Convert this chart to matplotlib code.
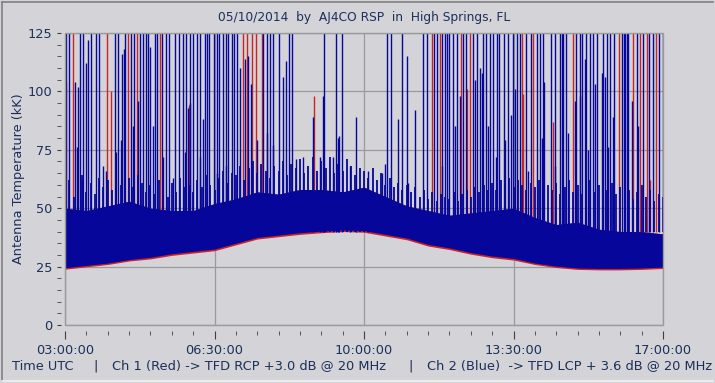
import matplotlib.pyplot as plt
from matplotlib.patches import Rectangle
from matplotlib.lines import Line2D

bg = '#d4d4d8'
txt = '#1c2f5a'
blue = '#06069a'
red = '#cc2222'
grid_c = '#9a9a9a'

# band edges, hours UTC
hours = [3.0, 3.5, 4.0, 4.5, 5.0, 5.5, 6.0, 6.5, 7.0, 7.5, 8.0, 8.5, 9.0, 9.5, 10.0,
         10.5, 11.0, 11.5, 12.0, 12.5, 13.0, 13.5, 14.0, 14.5, 15.0, 15.5, 16.0, 16.5, 17.0]
blue_low = [24.5, 25.5, 26.5, 28.0, 29.0, 30.5, 31.5, 32.5, 35.0, 37.5, 38.5, 39.5, 40.2, 40.7, 40.4,
            38.8, 37.2, 34.5, 33.0, 31.0, 29.5, 28.5, 26.5, 25.2, 24.4, 24.2, 24.2, 24.4, 24.8]
red_low = [23.9, 24.9, 25.9, 27.4, 28.3, 29.8, 30.8, 31.8, 34.3, 36.8, 37.8, 38.8, 39.5, 40.0, 39.7,
           38.1, 36.5, 33.8, 32.3, 30.3, 28.8, 27.8, 25.9, 24.6, 23.8, 23.6, 23.6, 23.8, 24.2]
blue_top = [50, 49, 51, 53, 50, 49, 49, 52, 54, 57, 56, 58, 58, 57, 59,
            55, 51, 49, 47, 48, 49, 50, 46, 43, 44, 41, 40, 40, 39]

# dense noise comb above the solid band, one reading per 6 minutes from 03:00
comb_t = [3.0 + 0.1 * i for i in range(141)]
comb_v = [58, 62, 55, 60, 64, 57, 61, 56, 63, 59,
          62, 58, 65, 60, 66, 63, 59, 64, 61, 57,
          60, 56, 62, 58, 55, 61, 57, 63, 59, 60,
          57, 62, 59, 64, 60, 58, 63, 66, 61, 65,
          64, 68, 62, 67, 70, 65, 69, 66, 63, 68,
          66, 70, 64, 69, 67, 71, 65, 68, 72, 66,
          70, 67, 72, 65, 69, 66, 71, 68, 64, 67,
          66, 63, 67, 62, 65, 60, 63, 59, 61, 58,
          60, 57, 59, 55, 58, 54, 57, 53, 56, 55,
          54, 57, 53, 56, 58, 55, 59, 57, 60, 58,
          61, 58, 62, 60, 63, 59, 62, 60, 58, 61,
          59, 62, 57, 60, 58, 61, 56, 59, 62, 57,
          60, 56, 59, 62, 57, 60, 55, 58, 61, 56,
          59, 55, 58, 54, 57, 60, 55, 58, 53, 56,
          55]

# interference spikes that run off the top
blue_full = [3.02, 3.09, 3.34, 3.41, 3.60, 3.73, 3.80, 4.17, 4.25, 4.41, 4.54, 4.62, 4.76, 4.83,
             4.90, 4.95, 5.11, 5.16, 5.28, 5.37, 5.44, 5.58, 5.67, 5.77, 5.83, 5.93, 5.99, 6.08,
             6.16, 6.28, 6.32, 6.37, 6.49, 6.55, 6.61, 6.71, 6.77, 6.82, 6.90, 6.96, 7.02, 7.64,
             7.72, 7.80, 7.88, 8.00, 8.25, 8.32, 9.07, 9.34, 9.48, 10.53, 10.63, 10.88, 11.39,
             11.47, 11.64, 11.72, 11.82, 11.90, 11.94, 12.00, 12.09, 12.17, 12.31, 12.39, 12.56,
             12.64, 12.78, 12.86, 12.95, 13.02, 13.11, 13.17, 13.28, 13.38, 13.49, 13.58, 13.66,
             13.80, 13.91, 14.05, 14.12, 14.20, 14.37, 14.48, 14.59, 14.63, 14.67, 14.73, 14.97,
             15.05, 15.10, 15.20, 15.30, 15.37, 15.45, 15.59, 15.69, 15.75, 15.86, 16.04, 16.08,
             16.12, 16.16, 16.19, 16.39, 16.53, 16.68, 16.76, 16.91, 17.00]
red_full = [3.18, 3.98, 4.48, 4.69, 5.22, 7.16, 7.26, 7.37, 7.47, 7.61, 11.59, 11.78, 12.27,
            12.48, 13.70, 13.95, 14.90, 15.96, 16.30, 16.47, 16.62, 16.84]

# shorter spikes (time, peak kK)
blue_part_t = [3.23, 3.27, 3.30, 3.39, 3.48, 3.55, 3.90, 3.96, 4.20, 4.30, 4.33, 4.37, 4.60, 4.70,
               4.99, 5.07, 5.30, 5.53, 5.80, 5.88, 5.92, 6.16, 6.24, 6.56, 6.78, 7.10, 7.22, 7.29,
               7.35, 7.50, 7.73, 7.87, 8.10, 8.17, 8.40, 8.58, 8.80, 8.97, 9.04, 9.28, 9.39, 9.42,
               9.67, 9.82, 10.10, 10.42, 10.50, 10.79, 11.00, 11.03, 11.20, 11.83, 12.13, 12.25,
               12.60, 12.72, 12.76, 12.90, 13.08, 13.30, 13.43, 13.54, 13.85, 14.17, 14.22, 14.48,
               14.78, 14.95, 15.05, 15.18, 15.25, 15.41, 15.57, 15.65, 15.72, 15.82, 16.28, 16.41]
blue_part_v = [104, 76, 102, 62, 112, 122, 68, 66, 74, 79, 116, 118, 85, 96,
               119, 85, 72, 63, 74, 93, 95, 72, 88, 65, 68, 110, 114, 115,
               103, 79, 82, 77, 106, 113, 71, 72, 89, 72, 98, 72, 80, 81,
               68, 89, 66, 65, 69, 88, 115, 61, 92, 68, 85, 98,
               105, 110, 108, 85, 72, 79, 90, 101, 66, 80, 104, 68,
               82, 96, 98, 114, 75, 103, 108, 106, 76, 89, 96, 85]
red_part_t = [3.02, 4.08, 5.90, 8.82, 12.40, 13.72, 14.43, 16.70]
red_part_v = [104, 100, 94, 98, 101, 99, 87, 62]

fig = plt.figure(figsize=(7.15, 3.83), dpi=100, facecolor=bg)
ax = fig.add_axes([65 / 715, 58 / 383, 598 / 715, 292 / 383])
ax.set_facecolor(bg)

# red channel sits underneath
ax.fill_between(hours, red_low, blue_top, color=red, lw=0, zorder=2)
ax.vlines(red_full, 40, 130, color=red, lw=1.0, zorder=2)
ax.vlines(red_part_t, 40, red_part_v, color=red, lw=1.0, zorder=2)

# blue channel
ax.fill_between(hours, blue_low, blue_top, color=blue, lw=0, zorder=3)
ax.vlines(comb_t, 40, comb_v, color=blue, lw=1.3, zorder=3)
ax.vlines(blue_full, 40, 130, color=blue, lw=1.0, zorder=3)
ax.vlines(blue_part_t, 40, blue_part_v, color=blue, lw=1.0, zorder=3)

ax.set_xlim(3, 17)
ax.set_ylim(0, 125)
ax.set_xticks([3, 6.5, 10, 13.5, 17])
ax.set_xticklabels(['03:00:00', '06:30:00', '10:00:00', '13:30:00', '17:00:00'])
ax.set_xticks([3 + 0.5 * i for i in range(29)], minor=True)
ax.set_yticks([0, 25, 50, 75, 100, 125])
ax.set_yticks(list(range(0, 126, 5)), minor=True)

for s in ax.spines.values():
    s.set_visible(False)
ax.spines['left'].set_position(('outward', 3))
ax.spines['bottom'].set_position(('outward', 4))
ax.tick_params(axis='both', which='both', colors='#404040', labelcolor=txt,
               labelsize=9.3, direction='out')
ax.tick_params(axis='x', which='major', length=6, pad=4)
ax.tick_params(axis='x', which='minor', length=3)
ax.tick_params(axis='y', which='both', length=3, pad=3)

ax.grid(True, which='major', color=grid_c, lw=0.9, zorder=1)
ax.add_patch(Rectangle((0, 0), 1, 1, transform=ax.transAxes, fill=False,
                       ec=grid_c, lw=1.0, zorder=5, clip_on=False))

ax.set_ylabel('Antenna Temperature (kK)', color=txt, fontsize=9.3)
ax.yaxis.set_label_coords(-40 / 598, 0.5)
fig.text(364 / 715, 1 - 17 / 383, '05/10/2014  by  AJ4CO RSP  in  High Springs, FL',
         ha='center', va='center', color=txt, fontsize=8.8)

foot_y = 1 - 366 / 383
fig.text(12 / 715, foot_y, 'Time UTC', va='center', color=txt, fontsize=9.3)
fig.text(93 / 715, foot_y, '|', va='center', color=txt, fontsize=9.3)
fig.text(112 / 715, foot_y, 'Ch 1 (Red) -> TFD RCP +3.0 dB @ 20 MHz', va='center', color=txt, fontsize=9.4)
fig.text(408 / 715, foot_y, '|', va='center', color=txt, fontsize=9.3)
fig.text(427 / 715, foot_y, 'Ch 2 (Blue)  -> TFD LCP + 3.6 dB @ 20 MHz', va='center', color=txt, fontsize=9.4)

# sunken window border
fig.add_artist(Line2D([2 / 715, 713 / 715], [1 - 2 / 383, 1 - 2 / 383], color='#808080', lw=1.2))
fig.add_artist(Line2D([2 / 715, 2 / 715], [2 / 383, 1 - 2 / 383], color='#808080', lw=1.2))
fig.add_artist(Line2D([2 / 715, 713 / 715], [2 / 383, 2 / 383], color='#f0f0f0', lw=1.2))

fig.savefig('out.png', dpi=100, facecolor=bg)
